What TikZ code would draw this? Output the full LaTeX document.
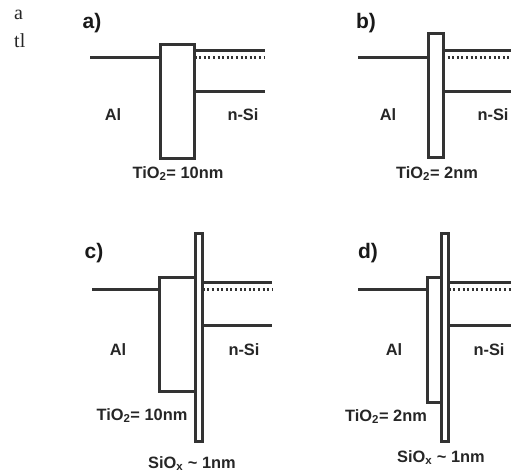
\documentclass[tikz,border=0pt]{standalone}
\usepackage{fontspec}
\setmainfont{Liberation Sans}
\newfontfamily\serifstray{Liberation Serif}
\tikzset{
  x=1pt,y=-1pt,
  layerbox/.style={draw=black!80,line width=3pt,fill=white,inner sep=0pt,outer sep=0pt,minimum width=#1},
  band/.style={draw=black!80,line width=3pt},
  fermi/.style={draw=black!80,line width=3pt,dash pattern=on 2pt off 2.6pt},
  lab/.style={anchor=base,inner sep=0pt,font=\fontsize{16.4}{18}\selectfont\bfseries,text=black!85},
  panel/.style={anchor=base,inner sep=0pt,font=\fontsize{21}{23}\selectfont\bfseries,text=black!90},
  stray/.style={inner sep=0pt,anchor=base west,font=\fontsize{20}{22}\serifstray,text=black!85}
}
\newcommand{\tio}[1]{TiO\textsubscript{2}= #1}
\newcommand{\siox}{SiO\textsubscript{x} \textasciitilde{} 1nm}
\begin{document}
\begin{tikzpicture}
\useasboundingbox (0,0) rectangle (511,472);
\node[stray] (s1) at (14,19) {a};
\node[stray] (s2) at (14,47) {tl};

% panel a
\node[panel] (pa) at (92,28) {a)};
\node[layerbox=34pt,minimum height=114pt] (boxa) at (177.5,101.5) {};
\coordinate (ala) at (90,57);
\coordinate (ra1) at (265,50);
\coordinate (ra2) at (265,57);
\coordinate (ra3) at (265,91);
\draw[band] (ala) -- (ala -| boxa.west);
\draw[band] (boxa.east |- ra1) -- (ra1);
\draw[fermi] (boxa.east |- ra2) -- (ra2);
\draw[band] (boxa.east |- ra3) -- (ra3);
\node[lab] (ta1) at (113,120.5) {Al};
\node[lab] (ta2) at (243,120.5) {n-Si};
\node[lab] (ta3) at (178,178) {\tio{10nm}};

% panel b
\node[panel] (pb) at (366,28) {b)};
\node[layerbox=15pt,minimum height=124pt] (boxb) at (435.5,95) {};
\coordinate (alb) at (358,57);
\coordinate (rb1) at (511,50);
\coordinate (rb2) at (511,57);
\coordinate (rb3) at (511,91);
\draw[band] (alb) -- (alb -| boxb.west);
\draw[band] (boxb.east |- rb1) -- (rb1);
\draw[fermi] (boxb.east |- rb2) -- (rb2);
\draw[band] (boxb.east |- rb3) -- (rb3);
\node[lab] (tb1) at (388,120.5) {Al};
\node[lab] (tb2) at (493,120.5) {n-Si};
\node[lab] (tb3) at (437,178) {\tio{2nm}};

% panel c
\node[panel] (pc) at (94,258) {c)};
\node[layerbox=35.5pt,minimum height=114pt] (boxc) at (177.5,334) {};
\node[layerbox=7.5pt,minimum height=208pt] (sc) at (199,337) {};
\coordinate (alc) at (92,289);
\coordinate (rc1) at (272,282);
\coordinate (rc2) at (272,289);
\coordinate (rc3) at (272,325);
\draw[band] (alc) -- (alc -| boxc.west);
\draw[band] (sc.east |- rc1) -- (rc1);
\draw[fermi] (sc.east |- rc2) -- (rc2);
\draw[band] (sc.east |- rc3) -- (rc3);
\node[lab] (tc1) at (118,355.5) {Al};
\node[lab] (tc2) at (244,355.5) {n-Si};
\node[lab] (tc3) at (142,420) {\tio{10nm}};
\node[lab] (tc4) at (192,468) {\siox};

% panel d
\node[panel] (pd) at (368,258) {d)};
\node[layerbox=14.5pt,minimum height=125pt] (boxd) at (434.3,339.5) {};
\node[layerbox=7.5pt,minimum height=208pt] (sd) at (445,337) {};
\coordinate (ald) at (358,289);
\coordinate (rd1) at (511,282);
\coordinate (rd2) at (511,289);
\coordinate (rd3) at (511,325);
\draw[band] (ald) -- (ald -| boxd.west);
\draw[band] (sd.east |- rd1) -- (rd1);
\draw[fermi] (sd.east |- rd2) -- (rd2);
\draw[band] (sd.east |- rd3) -- (rd3);
\node[lab] (td1) at (394,355.5) {Al};
\node[lab] (td2) at (489,355.5) {n-Si};
\node[lab] (td3) at (386,421) {\tio{2nm}};
\node[lab] (td4) at (441,462) {\siox};
\end{tikzpicture}
\end{document}
